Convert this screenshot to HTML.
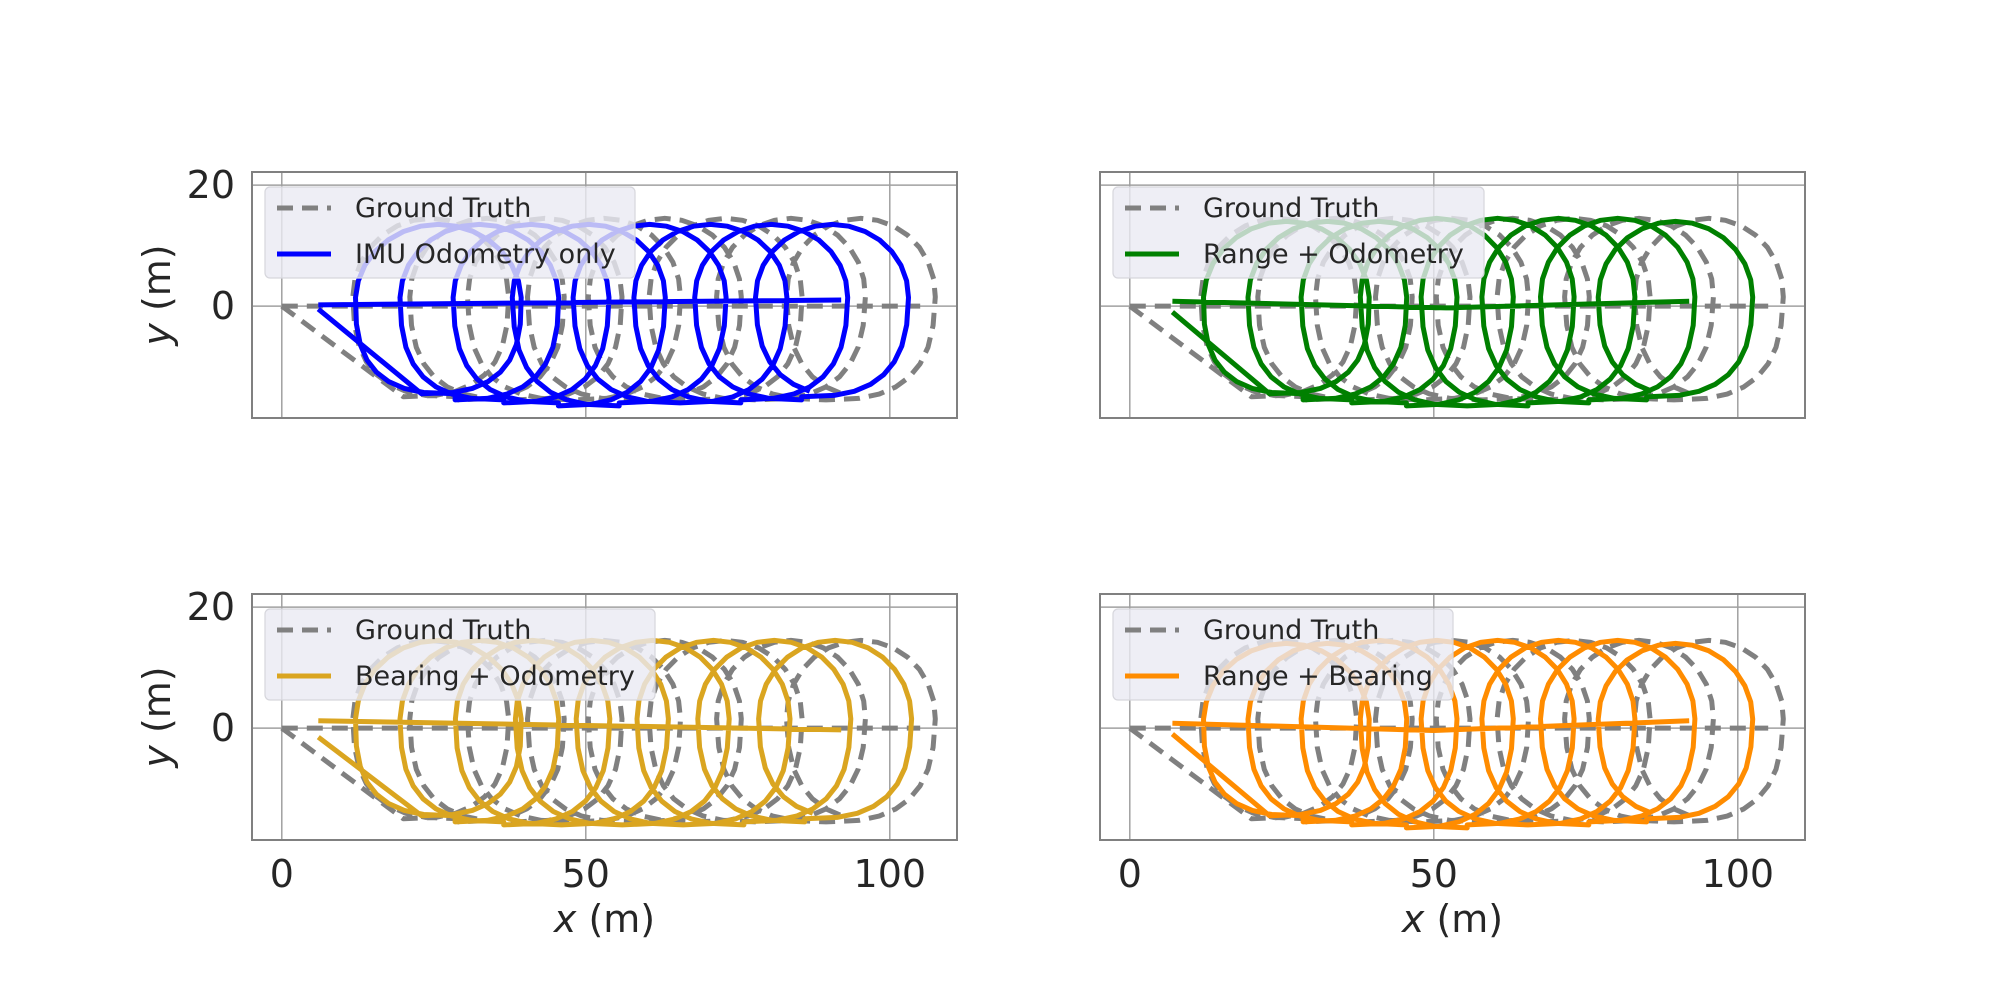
<!DOCTYPE html>
<html><head><meta charset="utf-8"><style>
html,body{margin:0;padding:0;background:#fff;}
svg{display:block;font-family:"DejaVu Sans","Liberation Sans",sans-serif;}
</style></head><body>
<svg id="chart" width="2000" height="1000" viewBox="0 0 2000 1000"></svg>
<script>
// ---- data (metres) ----
const xTicks = [0, 50, 100];
const yTicks = [0, 20];
const gtCenters = [20, 29, 38.5, 48, 58, 68, 78, 89.5];
const gtTop = [14.5, 14.5, 14.5, 14.5, 14.5, 14.5, 14.5, 14.5];
const gtBottom = [-15, -15.5, -15.5, -15.5, -15.5, -15.5, -15.5, -15.5];
const gtRadiusX = [15, 15, 15, 15, 15, 15, 15, 15];
const gtStart = [0, 0];
const gtLine = [[0, 0], [105, 0]];

const imuCenters = [23, 28.5, 36.5, 45.5, 55.5, 65.5, 75.5, 85.5];
const imuTop = [13.5, 13.5, 13.5, 13.5, 13.5, 13.5, 13.5, 13.5];
const imuBottom = [-14.5, -15.5, -16, -16.5, -16, -16, -15.5, -15];
const imuLine = [[6, 0.2], [92, 1]];

const rangeOdoCenters = [23, 28.5, 36.5, 45.5, 55.5, 65.5, 75.5, 85];
const rangeOdoTop = [14, 14, 14, 14.5, 14.5, 14.5, 14.5, 14];
const rangeOdoBottom = [-14.5, -15.5, -16, -16.5, -16.5, -16, -15.5, -15];
const rangeOdoLine = [[7, 0.8], [52, -0.3], [92, 0.8]];

const bearOdoCenters = [23, 28.5, 36.5, 46, 56, 66, 76, 86];
const bearOdoTop = [14.5, 14.5, 14.5, 14.5, 14.5, 14.5, 14.5, 14.5];
const bearOdoBottom = [-14.5, -15.5, -16, -16, -16, -16, -15.5, -15];
const bearOdoLine = [[6, 1.2], [92, -0.3]];

const rangeBearCenters = [23, 28.5, 36.5, 45.5, 55.5, 65.5, 75.5, 85];
const rangeBearTop = [14, 14, 14.5, 14.5, 14.5, 14.5, 14.5, 14];
const rangeBearBottom = [-14.5, -15.5, -16, -16.5, -16, -16, -15.5, -15];
const rangeBearLine = [[7, 0.8], [50, -0.4], [92, 1.2]];

const panels = [
  {name:'imu', label:'IMU Odometry only', color:'#0000ff', c:imuCenters, t:imuTop, b:imuBottom, line:imuLine, start:[6,-0.5], px:252, py:172, legendW:370, ylab:true, xlab:false},
  {name:'range-odometry', label:'Range + Odometry', color:'#008000', c:rangeOdoCenters, t:rangeOdoTop, b:rangeOdoBottom, line:rangeOdoLine, start:[7,-1], px:1100, py:172, legendW:371, ylab:false, xlab:false},
  {name:'bearing-odometry', label:'Bearing + Odometry', color:'#daa520', c:bearOdoCenters, t:bearOdoTop, b:bearOdoBottom, line:bearOdoLine, start:[6,-1.5], px:252, py:594, legendW:390, ylab:true, xlab:true},
  {name:'range-bearing', label:'Range + Bearing', color:'#ff8c00', c:rangeBearCenters, t:rangeBearTop, b:rangeBearBottom, line:rangeBearLine, start:[7,-1], px:1100, py:594, legendW:340, ylab:false, xlab:true}
];

const NS = 'http://www.w3.org/2000/svg';
const svg = document.getElementById('chart');
function mk(tag, attrs, parent){ const e=document.createElementNS(NS,tag); for(const k in attrs) e.setAttribute(k,attrs[k]); (parent||svg).appendChild(e); return e; }

const W = 705, H = 246, XMIN = -4.9, YMIN = -18.5, SX = 6.08, SY = 6.05;

function loopPoints(centers, tops, bots, rxs, start){
  const pts=[start];
  const n=centers.length;
  for(let i=0;i<n;i++){
    const next = i<n-1 ? centers[i+1] : centers[i]+(centers[i]-centers[i-1]);
    const d = next-centers[i];
    const end = i<n-1 ? 270 : 250;
    for(let th=-90; th<=end; th+=12){
      const r=th*Math.PI/180, s=Math.sin(r), c=Math.cos(r);
      const cx=centers[i]+d*(th+90)/360;
      const xs = s<0 ? Math.sign(c)*Math.pow(Math.abs(c),0.7) : c;
      const ys = s<0 ? -Math.pow(-s,0.7) : s;
      pts.push([cx+rxs[i]*xs, ys>0 ? tops[i]*ys : -bots[i]*ys]);
    }
  }
  return pts;
}

panels.forEach(p=>{
  const g = mk('g',{});
  
  
  const X = v => p.px + (v-XMIN)*SX;
  const Y = v => p.py + H - (v-YMIN)*SY;
  const clipId='clip-'+p.name;
  const cp=mk('clipPath',{id:clipId},g); mk('rect',{x:p.px,y:p.py,width:W,height:H},cp);
  xTicks.forEach(t=>{ const l=mk('line',{x1:X(t),x2:X(t),y1:p.py,y2:p.py+H,stroke:'#a0a0a0','stroke-width':1.5},g);
      });
  yTicks.forEach(t=>{ const l=mk('line',{x1:p.px,x2:p.px+W,y1:Y(t),y2:Y(t),stroke:'#a0a0a0','stroke-width':1.5},g);
      });
  const data = mk('g',{'clip-path':'url(#'+clipId+')'},g);
  const toD = pts => pts.map((q,i)=>(i?'L':'M')+X(q[0]).toFixed(1)+','+Y(q[1]).toFixed(1)).join('');
  const gtPts = loopPoints(gtCenters, gtTop, gtBottom, gtRadiusX, gtStart);
  const gt = mk('path',{d:toD(gtPts)+toD(gtLine),fill:'none',stroke:'#808080','stroke-width':5,'stroke-dasharray':'16,9','stroke-linejoin':'round'},data);
   
  const estPts = loopPoints(p.c, p.t, p.b, gtRadiusX, p.start);
  const est = mk('path',{d:toD(estPts)+toD(p.line),fill:'none',stroke:p.color,'stroke-width':5,'stroke-linejoin':'round'},data);
   
  const sp = mk('rect',{x:p.px,y:p.py,width:W,height:H,fill:'none',stroke:'#808080','stroke-width':2},g);
   
  const lg = mk('g',{},g);
   
  mk('rect',{x:p.px+13,y:p.py+15,width:p.legendW,height:91,rx:5,fill:'#eaeaf2','fill-opacity':0.8,stroke:'#d6d6dc','stroke-width':1.2},lg);
  mk('line',{x1:p.px+25,x2:p.px+79,y1:p.py+36,y2:p.py+36,stroke:'#808080','stroke-width':5,'stroke-dasharray':'16,9'},lg);
  const t1=mk('text',{x:p.px+103,y:p.py+45,'font-size':27,fill:'#262626'},lg); t1.textContent='Ground Truth';
   
  mk('line',{x1:p.px+25,x2:p.px+79,y1:p.py+82,y2:p.py+82,stroke:p.color,'stroke-width':5},lg);
  const t2=mk('text',{x:p.px+103,y:p.py+91,'font-size':27,fill:'#262626'},lg); t2.textContent=p.label;
   
  if(p.ylab){
    yTicks.forEach(t=>{ const tx=mk('text',{x:p.px-17,y:Y(t)+13,'font-size':38,'text-anchor':'end',fill:'#262626'},g); tx.textContent=t;
        });
    const yl=mk('text',{x:0,y:0,'font-size':38,'text-anchor':'middle',fill:'#262626',transform:'translate(170,'+(p.py+H/2)+') rotate(-90)'},g);
    yl.innerHTML='<tspan font-style="italic">y</tspan> (m)';
     
  }
  if(p.xlab){
    xTicks.forEach(t=>{ const tx=mk('text',{x:X(t),y:p.py+H+47,'font-size':38,'text-anchor':'middle',fill:'#262626'},g); tx.textContent=t;
        });
    const xl=mk('text',{x:p.px+W/2,y:p.py+H+92,'font-size':38,'text-anchor':'middle',fill:'#262626'},g);
    xl.innerHTML='<tspan font-style="italic">x</tspan> (m)';
     
  }
});
</script>
</body></html>
